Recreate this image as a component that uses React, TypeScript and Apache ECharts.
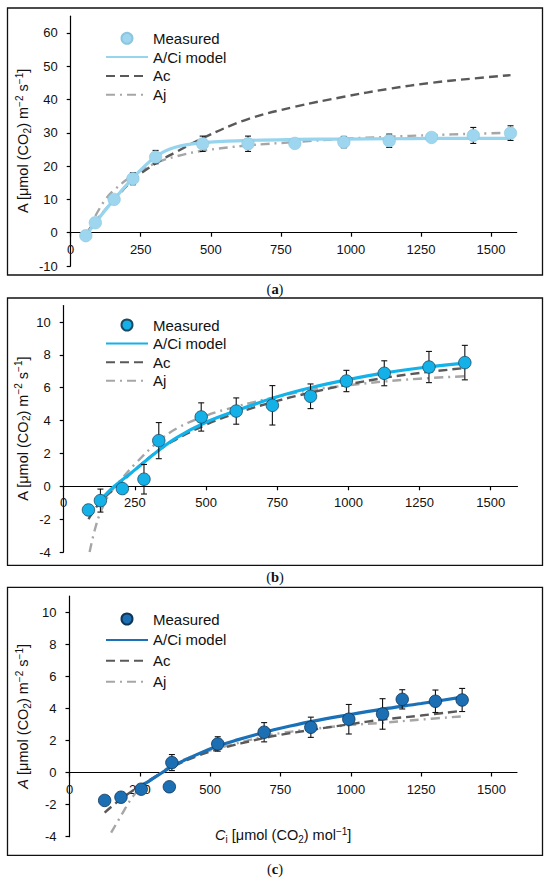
import React, { useEffect, useRef } from "react";
import * as echarts from "echarts";

// ---------- Tick values ----------
const xTicks = [0, 250, 500, 750, 1000, 1250, 1500];
const yTicksA = [-10, 0, 10, 20, 30, 40, 50, 60];
const yTicksBC = [-4, -2, 0, 2, 4, 6, 8, 10];

// ---------- Panel (a) ----------
const ciA = [54, 88, 155, 222, 303, 471, 633, 800, 975, 1137, 1288, 1437, 1570];
const measA = [-0.9, 3.0, 10.0, 16.2, 22.7, 26.7, 26.7, 26.8, 27.2, 27.6, 28.6, 29.2, 29.9];
const errA = [0.5, 1.0, 1.4, 1.8, 2.0, 2.3, 2.3, 1.0, 1.7, 2.0, 1.0, 2.4, 2.2];
const modelCiA = [54, 88, 155, 222, 303, 370, 471, 633, 800, 975, 1137, 1288, 1437, 1570];
const modelA = [-0.9, 3.0, 10.0, 16.4, 22.8, 25.6, 27.0, 27.7, 28.0, 28.1, 28.2, 28.3, 28.3, 28.3];
const acCiA = [54, 88, 155, 222, 303, 380, 471, 633, 800, 975, 1137, 1288, 1437, 1570];
const acA = [-0.6, 3.4, 9.8, 15.8, 20.8, 24.4, 28.4, 34.1, 37.8, 40.8, 43.2, 45.0, 46.3, 47.3];
const ajCiA = [88, 120, 155, 222, 303, 380, 471, 633, 800, 975, 1137, 1288, 1437, 1570];
const ajA = [5.0, 9.5, 12.8, 17.2, 20.9, 23.0, 24.6, 26.2, 27.2, 28.2, 28.8, 29.3, 29.7, 30.0];

// ---------- Panel (b) ----------
const ciB = [87, 129, 206, 282, 334, 483, 606, 733, 867, 993, 1126, 1283, 1409];
const measB = [-1.44, -0.87, -0.14, 0.43, 2.78, 4.22, 4.58, 4.93, 5.48, 6.41, 6.88, 7.26, 7.53];
const errB = [0.3, 0.7, 0.2, 0.9, 1.1, 0.86, 0.8, 1.2, 0.75, 0.65, 0.76, 0.95, 1.05];
const modelCiB = [129, 178, 250, 334, 400, 500, 606, 750, 867, 1000, 1126, 1250, 1409];
const modelB = [-0.85, 0.0, 1.0, 2.2, 3.0, 3.9, 4.6, 5.45, 6.0, 6.5, 6.9, 7.2, 7.5];
const acCiB = [87, 129, 200, 250, 334, 400, 500, 606, 750, 867, 1000, 1126, 1250, 1409];
const acB = [-2.0, -0.95, 0.2, 1.0, 2.2, 2.9, 3.75, 4.45, 5.2, 5.7, 6.2, 6.6, 6.9, 7.2];
const ajCiB = [91, 110, 129, 160, 206, 250, 334, 400, 500, 606, 750, 867, 1000, 1126, 1250, 1409];
const ajB = [-4.0, -2.6, -1.6, -0.5, 0.5, 1.35, 2.75, 3.55, 4.3, 4.85, 5.45, 5.85, 6.15, 6.38, 6.55, 6.7];

// ---------- Panel (c) ----------
const ciC = [125, 183, 255, 355, 364, 527, 692, 858, 993, 1113, 1183, 1301, 1396];
const measC = [-1.74, -1.54, -1.04, -0.89, 0.62, 1.78, 2.51, 2.82, 3.32, 3.65, 4.56, 4.44, 4.52];
const errC = [0.2, 0.2, 0.2, 0.2, 0.5, 0.45, 0.6, 0.63, 0.92, 0.95, 0.6, 0.7, 0.72];
const modelCiC = [255, 330, 364, 450, 527, 600, 692, 750, 858, 993, 1113, 1250, 1396];
const modelC = [-0.85, 0.0, 0.38, 1.1, 1.65, 2.05, 2.5, 2.76, 3.17, 3.6, 3.95, 4.3, 4.7];
const acCiC = [125, 183, 255, 330, 364, 450, 527, 692, 750, 858, 993, 1113, 1250, 1396];
const acC = [-2.5, -1.65, -0.8, 0.0, 0.35, 1.0, 1.45, 2.15, 2.35, 2.65, 3.0, 3.3, 3.55, 3.85];
const ajCiC = [148, 183, 225, 255, 330, 364, 450, 527, 692, 750, 858, 993, 1113, 1250, 1396];
const ajC = [-3.75, -2.7, -1.5, -0.95, 0.05, 0.45, 1.1, 1.5, 2.25, 2.45, 2.7, 2.95, 3.1, 3.3, 3.5];

const legendNames = ["Measured", "A/Ci model", "Ac", "Aj"];
const captions = ["a", "b", "c"];

const FONT = "'Liberation Sans', Arial, Helvetica, sans-serif";
const SERIF = "'Liberation Serif', 'Times New Roman', serif";

const zip = (xs: number[], ys: number[]) => xs.map((x, i) => [x, ys[i]]);

const panels = [
  {
    key: "a",
    grid: { left: 70.7, top: 16.2, width: 446, height: 249.8 },
    xMax: 1592, yMin: -10, yMax: 65, yTicks: yTicksA,
    ci: ciA, meas: measA, err: errA,
    model: zip(modelCiA, modelA), ac: zip(acCiA, acA), aj: zip(ajCiA, ajA),
    fill: "#9dd6ee", border: "#8cc6de", borderW: 0.6, line: "#97d4ee",
    legendTop: 30.8, legendGap: 3.8, nameGap: 38.5, italicA: false,
    frame: [7.5, 8, 535, 267], capY: 288.7,
  },
  {
    key: "b",
    grid: { left: 63.7, top: 305.6, width: 453.8, height: 246.4 },
    xMax: 1594, yMin: -4, yMax: 11, yTicks: yTicksBC,
    ci: ciB, meas: measB, err: errB,
    model: zip(modelCiB, modelB), ac: zip(acCiB, acB), aj: zip(ajCiB, ajB),
    fill: "#14b1e8", border: "#1d4a63", borderW: 0.8, line: "#12b2ea",
    legendTop: 317.5, legendGap: 3.6, nameGap: 32, italicA: false,
    frame: [7.5, 298, 535, 267.3], capY: 577.3,
  },
  {
    key: "c",
    grid: { left: 69.5, top: 596, width: 447.5, height: 240.7 },
    xMax: 1591, yMin: -4, yMax: 11, yTicks: yTicksBC,
    ci: ciC, meas: measC, err: errC,
    model: zip(modelCiC, modelC), ac: zip(acCiC, acC), aj: zip(ajCiC, ajC),
    fill: "#1c6fb3", border: "#0f3557", borderW: 0.8, line: "#1a71b8",
    legendTop: 611.5, legendGap: 5.9, nameGap: 37.5, italicA: true,
    frame: [7.5, 587.3, 535, 268], capY: 869.3,
  },
];

const richName = {
  it: { fontStyle: "italic", fontSize: 14.5, fontFamily: FONT, color: "#111" },
  sub: { fontSize: 10, verticalAlign: "bottom", lineHeight: 10, fontFamily: FONT, color: "#111" },
  sup: { fontSize: 10, verticalAlign: "top", lineHeight: 10, fontFamily: FONT, color: "#111" },
};

function buildOption() {
  const grid: any[] = [];
  const xAxis: any[] = [];
  const yAxis: any[] = [];
  const series: any[] = [];
  const legend: any[] = [];
  const graphic: any[] = [];

  panels.forEach((p, i) => {
    grid.push({ ...p.grid, containLabel: false });
    const isC = p.key === "c";
    // place the x axis at A = 0 (inside the grid)
    const zeroOffset = -(p.grid.height * (0 - p.yMin)) / (p.yMax - p.yMin);
    xAxis.push({
      gridIndex: i,
      type: "value",
      min: 0,
      max: p.xMax,
      position: "bottom",
      offset: zeroOffset,
      axisLine: { show: true, onZero: false, lineStyle: { color: "#000", width: 1.2 } },
      axisTick: { show: true, customValues: xTicks, length: 4, lineStyle: { color: "#000", width: 1.2 } },
      axisLabel: {
        customValues: xTicks, margin: 10, fontSize: 13, color: "#111", fontFamily: FONT,
        formatter: (v: number) => String(v),
      },
      splitLine: { show: false },
      name: isC ? "{it|C}{sub|i} [μmol (CO{sub|2}) mol{sup|−1}]" : "",
      nameLocation: "middle",
      nameGap: 53.5,
      nameMoveOverlap: false,
      nameTextStyle: {
        fontSize: 14.5, color: "#111", fontFamily: FONT, lineHeight: 18,
        padding: [0, 20, 0, 0],
        rich: richName,
      },
    });
    yAxis.push({
      gridIndex: i,
      type: "value",
      min: p.yMin,
      max: p.yMax,
      axisLine: { show: true, onZero: false, lineStyle: { color: "#000", width: 1.2 } },
      axisTick: { show: true, customValues: p.yTicks, length: 4, lineStyle: { color: "#000", width: 1.2 } },
      axisLabel: {
        customValues: p.yTicks, margin: 13, fontSize: 13, color: "#111", fontFamily: FONT,
        formatter: (v: number) => String(v),
      },
      splitLine: { show: false },
      name: (p.italicA ? "{it|A}" : "A") + " [μmol (CO{sub|2}) m{sup|−2} s{sup|−1}]",
      nameLocation: "middle",
      nameRotate: 90,
      nameGap: p.nameGap,
      nameMoveOverlap: false,
      nameTextStyle: {
        fontSize: 14.5, color: "#111", fontFamily: FONT, lineHeight: 18,
        rich: richName,
      },
    });

    const sfx = "_" + p.key;
    series.push({
      type: "line",
      name: "Aj" + sfx,
      xAxisIndex: i, yAxisIndex: i,
      data: p.aj,
      symbol: "none", showSymbol: false,
      smooth: 0.4,
      lineStyle: { color: "#a6a6a6", width: 2.4, type: [9, 5, 2, 5] },
      itemStyle: { color: "#a6a6a6" },
      z: 2,
    });
    series.push({
      type: "line",
      name: "Ac" + sfx,
      xAxisIndex: i, yAxisIndex: i,
      data: p.ac,
      symbol: "none", showSymbol: false,
      smooth: 0.4,
      lineStyle: { color: "#595959", width: 2.4, type: [9, 5] },
      itemStyle: { color: "#595959" },
      z: 3,
    });
    series.push({
      type: "line",
      name: "A/Ci model" + sfx,
      xAxisIndex: i, yAxisIndex: i,
      data: p.model,
      symbol: "none", showSymbol: false,
      smooth: 0.4,
      lineStyle: { color: p.line, width: 3.2 },
      itemStyle: { color: p.line },
      z: 4,
    });
    series.push({
      type: "custom",
      name: "err" + sfx,
      xAxisIndex: i, yAxisIndex: i,
      data: p.ci.map((x, j) => [x, p.meas[j], p.err[j]]),
      encode: { x: 0, y: 1 },
      silent: true,
      z: 5,
      renderItem: (params: any, api: any) => {
        const x = api.value(0);
        const y = api.value(1);
        const e = api.value(2);
        const top = api.coord([x, y + e]);
        const bot = api.coord([x, y - e]);
        const cw = 3;
        const st = { stroke: "#111", lineWidth: 1.1 };
        return {
          type: "group",
          children: [
            { type: "line", shape: { x1: top[0], y1: top[1], x2: bot[0], y2: bot[1] }, style: st },
            { type: "line", shape: { x1: top[0] - cw, y1: top[1], x2: top[0] + cw, y2: top[1] }, style: st },
            { type: "line", shape: { x1: bot[0] - cw, y1: bot[1], x2: bot[0] + cw, y2: bot[1] }, style: st },
          ],
        };
      },
    });
    series.push({
      type: "scatter",
      name: "Measured" + sfx,
      xAxisIndex: i, yAxisIndex: i,
      data: zip(p.ci, p.meas),
      symbol: "circle",
      symbolSize: 12.5,
      itemStyle: { color: p.fill, borderColor: p.border, borderWidth: p.borderW, opacity: 1 },
      z: 6,
    });

    legend.push({
      data: legendNames.map((n, k) =>
        k === 0 ? { name: n + sfx } : { name: n + sfx, itemStyle: { opacity: 0 } }
      ),
      orient: "vertical",
      left: 105,
      top: p.legendTop,
      padding: 0,
      itemWidth: 42,
      itemHeight: 11,
      itemGap: p.legendGap,
      selectedMode: false,
      formatter: (n: string) => n.split("_")[0],
      textStyle: { fontSize: 15, color: "#111", fontFamily: FONT },
    });

    const [fx, fy, fw, fh] = p.frame;
    graphic.push({
      type: "rect",
      shape: { x: fx, y: fy, width: fw, height: fh },
      style: { fill: "none", stroke: "#111", lineWidth: 1.3 },
      silent: true,
      z: 0,
    });
    graphic.push({
      type: "text",
      x: 275,
      y: p.capY,
      style: {
        text: "({b|" + captions[i] + "})",
        fontSize: 14.5,
        fontFamily: SERIF,
        fill: "#111",
        align: "center",
        verticalAlign: "middle",
        rich: { b: { fontWeight: "bold", fontSize: 14.5, fontFamily: SERIF, fill: "#111" } },
      },
      silent: true,
    });
  });

  return { animation: false, backgroundColor: "#fff", grid, xAxis, yAxis, series, legend, graphic };
}

export default function App() {
  const ref = useRef<HTMLDivElement | null>(null);
  useEffect(() => {
    document.body.style.margin = "0";
    if (!ref.current) return;
    const chart = echarts.init(ref.current, null, { renderer: "svg" });
    chart.setOption(buildOption() as any);
    return () => chart.dispose();
  }, []);
  return <div ref={ref} style={{ width: 550, height: 880 }} />;
}
